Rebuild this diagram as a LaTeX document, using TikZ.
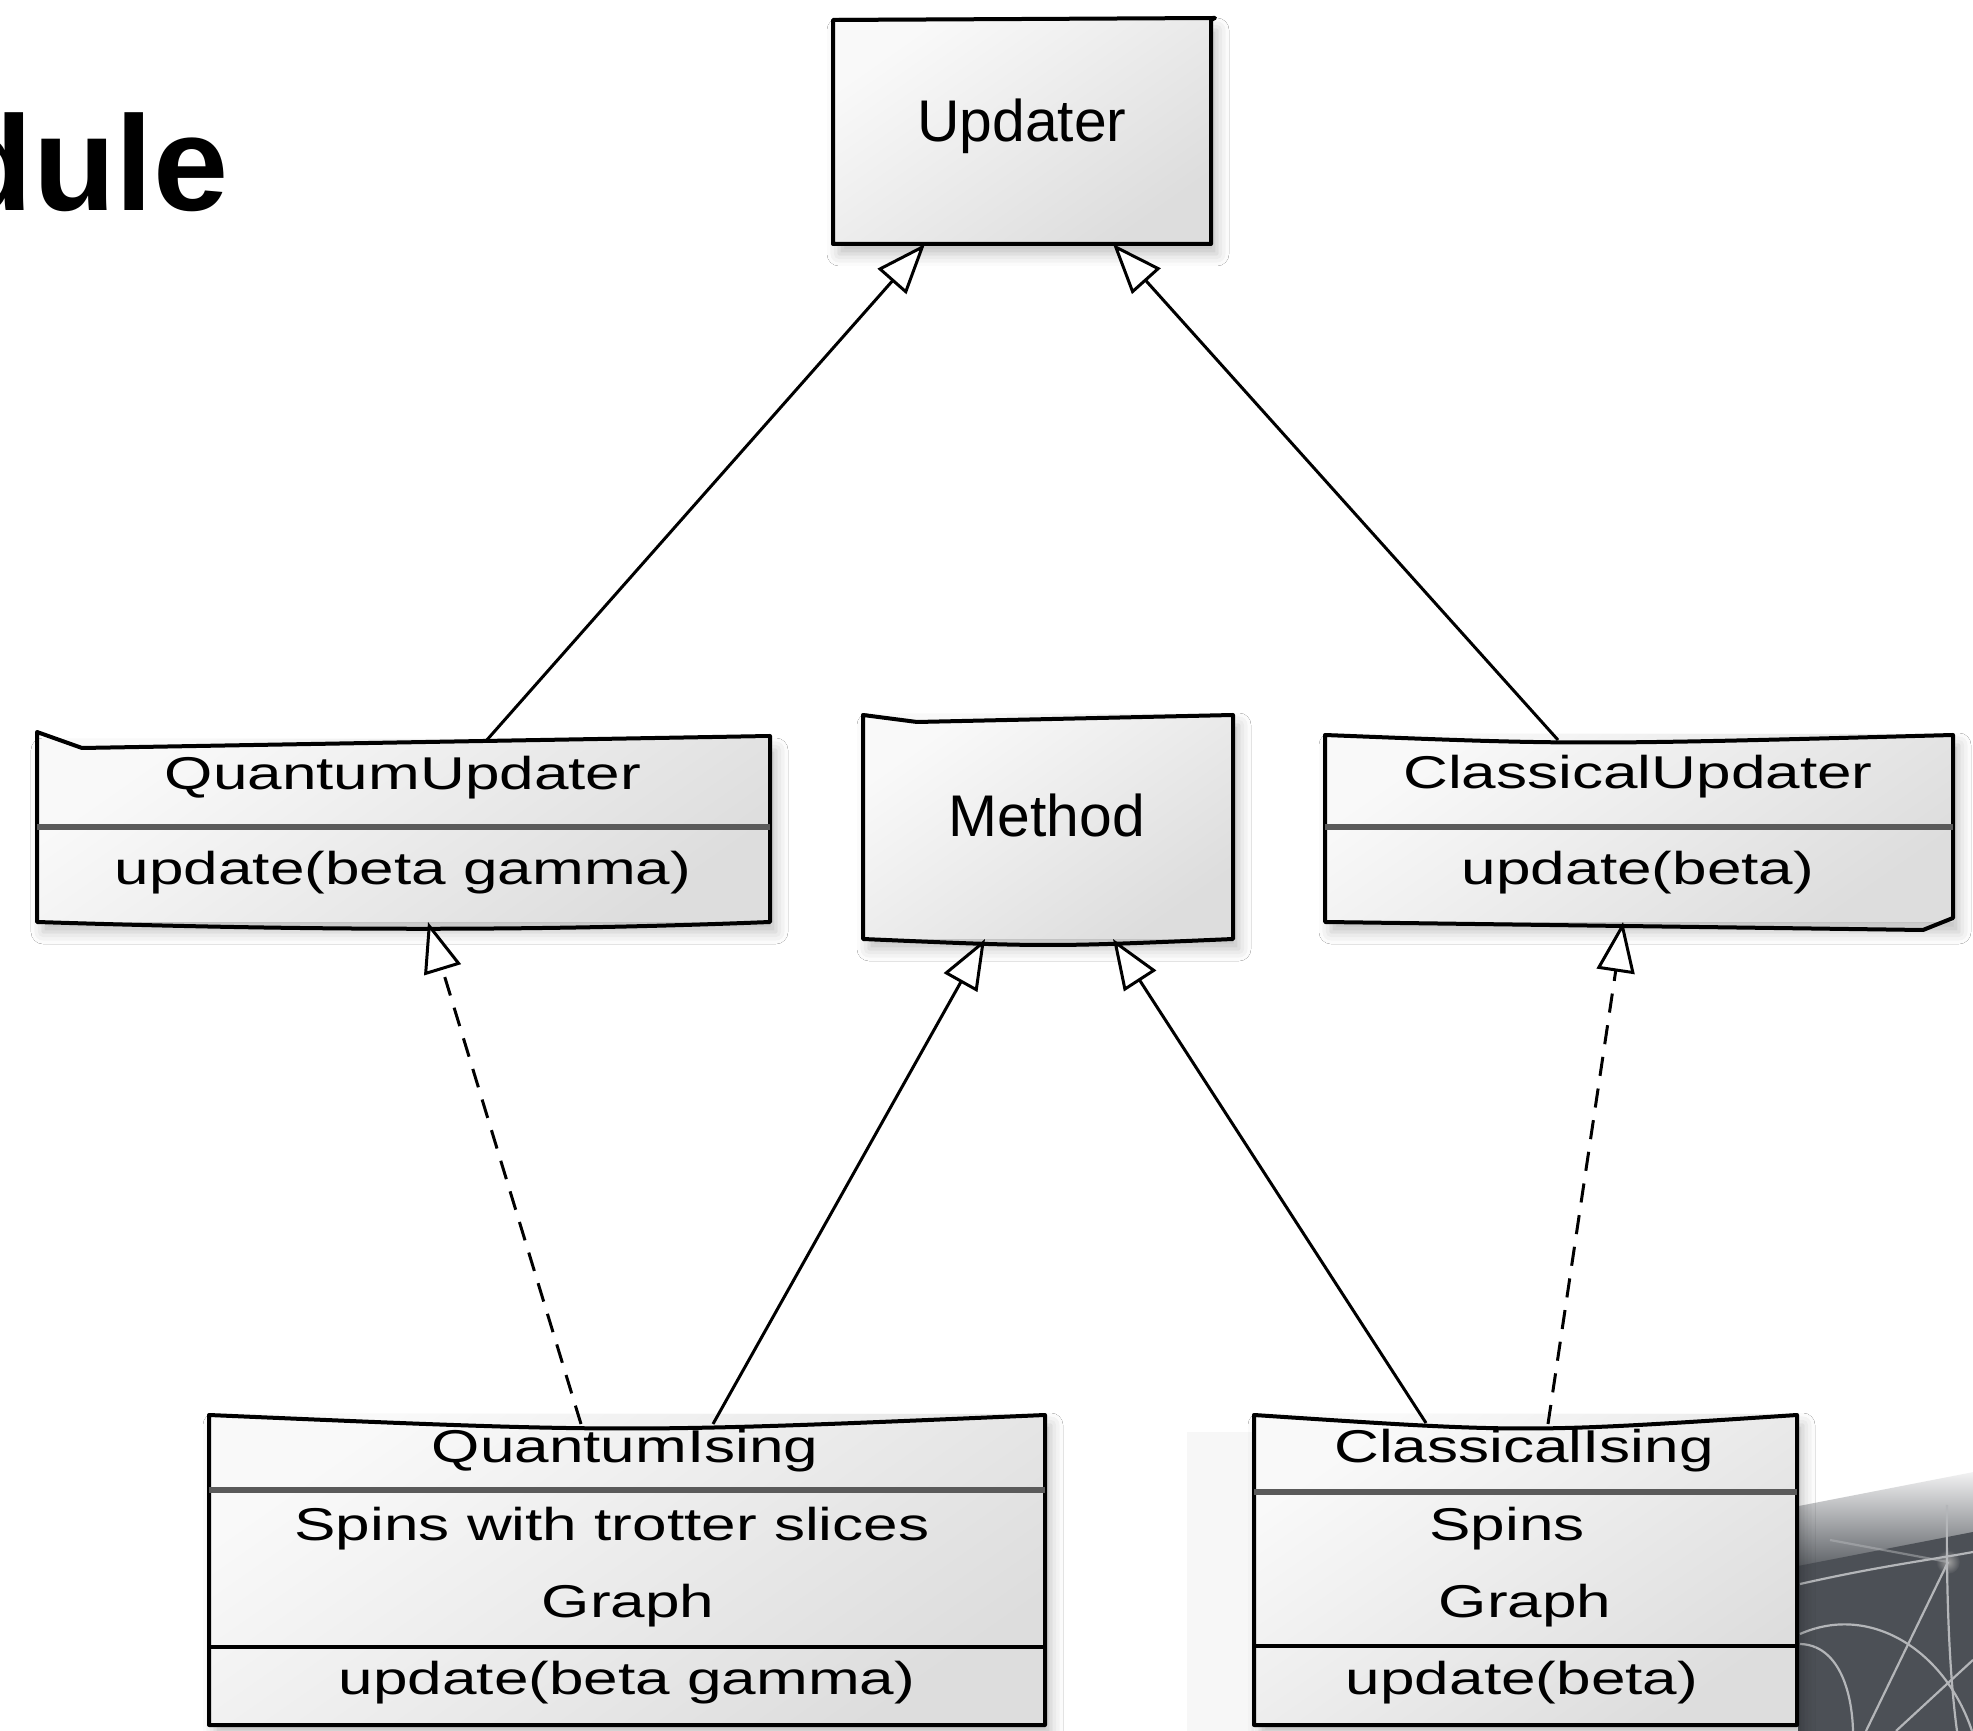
\documentclass[tikz,border=0pt]{standalone}
\usepackage{fontspec}
\setmainfont{Liberation Sans}
\newfontfamily\handfont[FakeStretch=1.35]{Liberation Sans}
\usetikzlibrary{arrows.meta,calc,shadows.blur}

\definecolor{boxtop}{HTML}{F9F9F9}
\definecolor{boxbot}{HTML}{DDDDDD}
\definecolor{divgray}{HTML}{5A5A5A}
\definecolor{slate}{HTML}{4C5056}
\definecolor{arcgray}{HTML}{B4B6B9}

\tikzset{
  umlbox/.style={rectangle, inner sep=0pt, outer sep=0pt,
    top color=boxtop, bottom color=boxbot, shading angle=35,
    blur shadow={shadow xshift=1.5pt, shadow yshift=-2.5pt,
      shadow blur radius=3pt, shadow opacity=25}},
  boxedge/.style={line width=1pt, line join=round, line cap=round},
  headrule/.style={line width=1.7pt, divgray},
  thinrule/.style={line width=0.9pt},
  bigtext/.style={font=\fontsize{14.7}{17}\selectfont, inner sep=0pt, anchor=base},
  handtext/.style={font=\handfont\fontsize{11.5}{14}\selectfont, inner sep=0pt, anchor=base},
  genarrow/.style={line width=0.75pt,
    -{Triangle[open, length=12.5pt, width=9.5pt, fill=white]}},
  realarrow/.style={genarrow, dash pattern=on 4.8pt off 3.2pt},
}

\begin{document}
\begin{tikzpicture}[x=0.25pt, y=-0.25pt]
\useasboundingbox (0,0) rectangle (1973,1731);
\fill[white] (0,0) rectangle (1973,1731);

% slide title fragment
\node[font=\bfseries\fontsize{33.75}{40}\selectfont, inner sep=0pt, anchor=base west] (ttl) at (-50,211) {dule};

% slide decoration, lower right
\fill[black!3] (1187,1432) rectangle (1254,1731);
\begin{scope}
  \clip (1798,1440) rectangle (1973,1731);
  \shade[rotate around={11:(1885,1530)}, top color=white, bottom color=slate]
    (1740,1490) rectangle (2030,1552);
  \fill[slate] (1798,1566) -- (1973,1532) -- (1973,1731) -- (1798,1731) -- cycle;
  \shade[inner color=gray!75, outer color=slate] (1948,1562) circle (12);
  \begin{scope}[arcgray, line width=0.55pt]
    \draw (1800,1584) .. controls (1880,1566) and (1930,1560) .. (1973,1552);
    \draw[opacity=0.5] (1830,1540) -- (1948,1562);
    \draw (1947,1505) .. controls (1946,1600) and (1950,1680) .. (1957,1731);
    \draw (1948,1562) -- (1866,1731);
    \draw (1800,1634) .. controls (1870,1603) and (1945,1650) .. (1972,1731);
    \draw (1800,1644) .. controls (1838,1645) and (1852,1690) .. (1853,1731);
    \draw (1896,1731) -- (1973,1660);
  \end{scope}
\end{scope}

% class boxes
\node[umlbox, minimum width=94.5pt, minimum height=56pt] (up) at (1022,132) {};
\node[umlbox, minimum width=92.5pt, minimum height=56pt] (me) at (1048,827) {};
\node[umlbox, minimum width=183.25pt, minimum height=45.5pt] (qu) at (403.5,831) {};
\node[umlbox, minimum width=157pt, minimum height=46.75pt] (cu) at (1639,828.5) {};
\node[umlbox, minimum width=209pt, minimum height=77.5pt] (qi) at (627,1570) {};
\node[umlbox, minimum width=135.75pt, minimum height=77.5pt] (ci) at (1525.5,1570) {};

% hand-drawn outlines
\draw[boxedge] (up.north west) -- ($(up.north east)+(4,-2)$) -- (up.north east)
  -- (up.south east) -- (up.south west) -- cycle;
\draw[boxedge] (me.north west) -- ($(me.north west)+(54,7)$) -- (me.north east)
  -- (me.south east) .. controls ($(me.south east)!0.5!(me.south west)+(0,8)$) .. (me.south west) -- cycle;
\draw[boxedge] ($(qu.north west)+(0,-8)$) -- ($(qu.north west)+(45,8)$) -- ($(qu.north east)+(0,-4)$)
  -- (qu.south east) .. controls ($(qu.south east)+(-250,10)$) and ($(qu.south west)+(250,8)$) .. (qu.south west) -- cycle;
\draw[boxedge] (cu.north west) .. controls ($(cu.north west)!0.4!(cu.north east)+(0,10)$) .. (cu.north east)
  -- ($(cu.south east)+(0,-4)$) -- ($(cu.south east)+(-30,8)$) -- (cu.south west) -- cycle;
\draw[boxedge] (qi.north west) .. controls ($(qi.north west)!0.5!(qi.north east)+(0,18)$) .. (qi.north east)
  -- (qi.south east) -- (qi.south west) -- cycle;
\draw[boxedge] (ci.north west) .. controls ($(ci.north west)!0.5!(ci.north east)+(0,18)$) .. (ci.north east)
  -- (ci.south east) -- (ci.south west) -- cycle;

% compartment rules
\draw[headrule] ($(qu.north west)+(0,87)$) -- ($(qu.north east)+(0,87)$);
\draw[headrule] ($(cu.north west)+(0,92)$) -- ($(cu.north east)+(0,92)$);
\draw[headrule] ($(qi.north west)+(0,75)$) -- ($(qi.north east)+(0,75)$);
\draw[thinrule] ($(qi.north west)+(0,232)$) -- ($(qi.north east)+(0,232)$);
\draw[headrule] ($(ci.north west)+(0,77)$) -- ($(ci.north east)+(0,77)$);
\draw[thinrule] ($(ci.north west)+(0,231)$) -- ($(ci.north east)+(0,231)$);

% labels
\node[bigtext] (upT) at (1022,142) {Updater};
\node[bigtext] (meT) at (1047,837) {Method};
\node[handtext] (quN) at (403,790) {QuantumUpdater};
\node[handtext] (quM) at (403,885) {update(beta gamma)};
\node[handtext] (cuN) at (1638,789) {ClassicalUpdater};
\node[handtext] (cuM) at (1638,885) {update(beta)};
\node[handtext] (qiN) at (625,1463) {QuantumIsing};
\node[handtext] (qiA) at (612,1540) {Spins with trotter slices};
\node[handtext] (qiB) at (628,1618) {Graph};
\node[handtext] (qiM) at (627,1695) {update(beta gamma)};
\node[handtext] (ciN) at (1524,1463) {ClassicalIsing};
\node[handtext] (ciA) at (1507,1540) {Spins};
\node[handtext] (ciB) at (1525,1618) {Graph};
\node[handtext] (ciM) at (1522,1695) {update(beta)};

% generalizations and realizations
\draw[genarrow] ($(qu.north west)+(449,1)$) -- ($(up.south west)+(92,0)$);
\draw[genarrow] ($(cu.north west)+(233,5)$) -- ($(up.south west)+(280,0)$);
\draw[genarrow] ($(qi.north west)+(504,9)$) -- ($(me.south west)+(122,0)$);
\draw[genarrow] ($(ci.north west)+(172,8)$) -- ($(me.south west)+(250,0)$);
\draw[realarrow] ($(qi.north west)+(372,9)$) -- ($(qu.south west)+(391,0)$);
\draw[realarrow] ($(ci.north west)+(294,9)$) -- ($(cu.south west)+(298,0)$);
\end{tikzpicture}
\end{document}
